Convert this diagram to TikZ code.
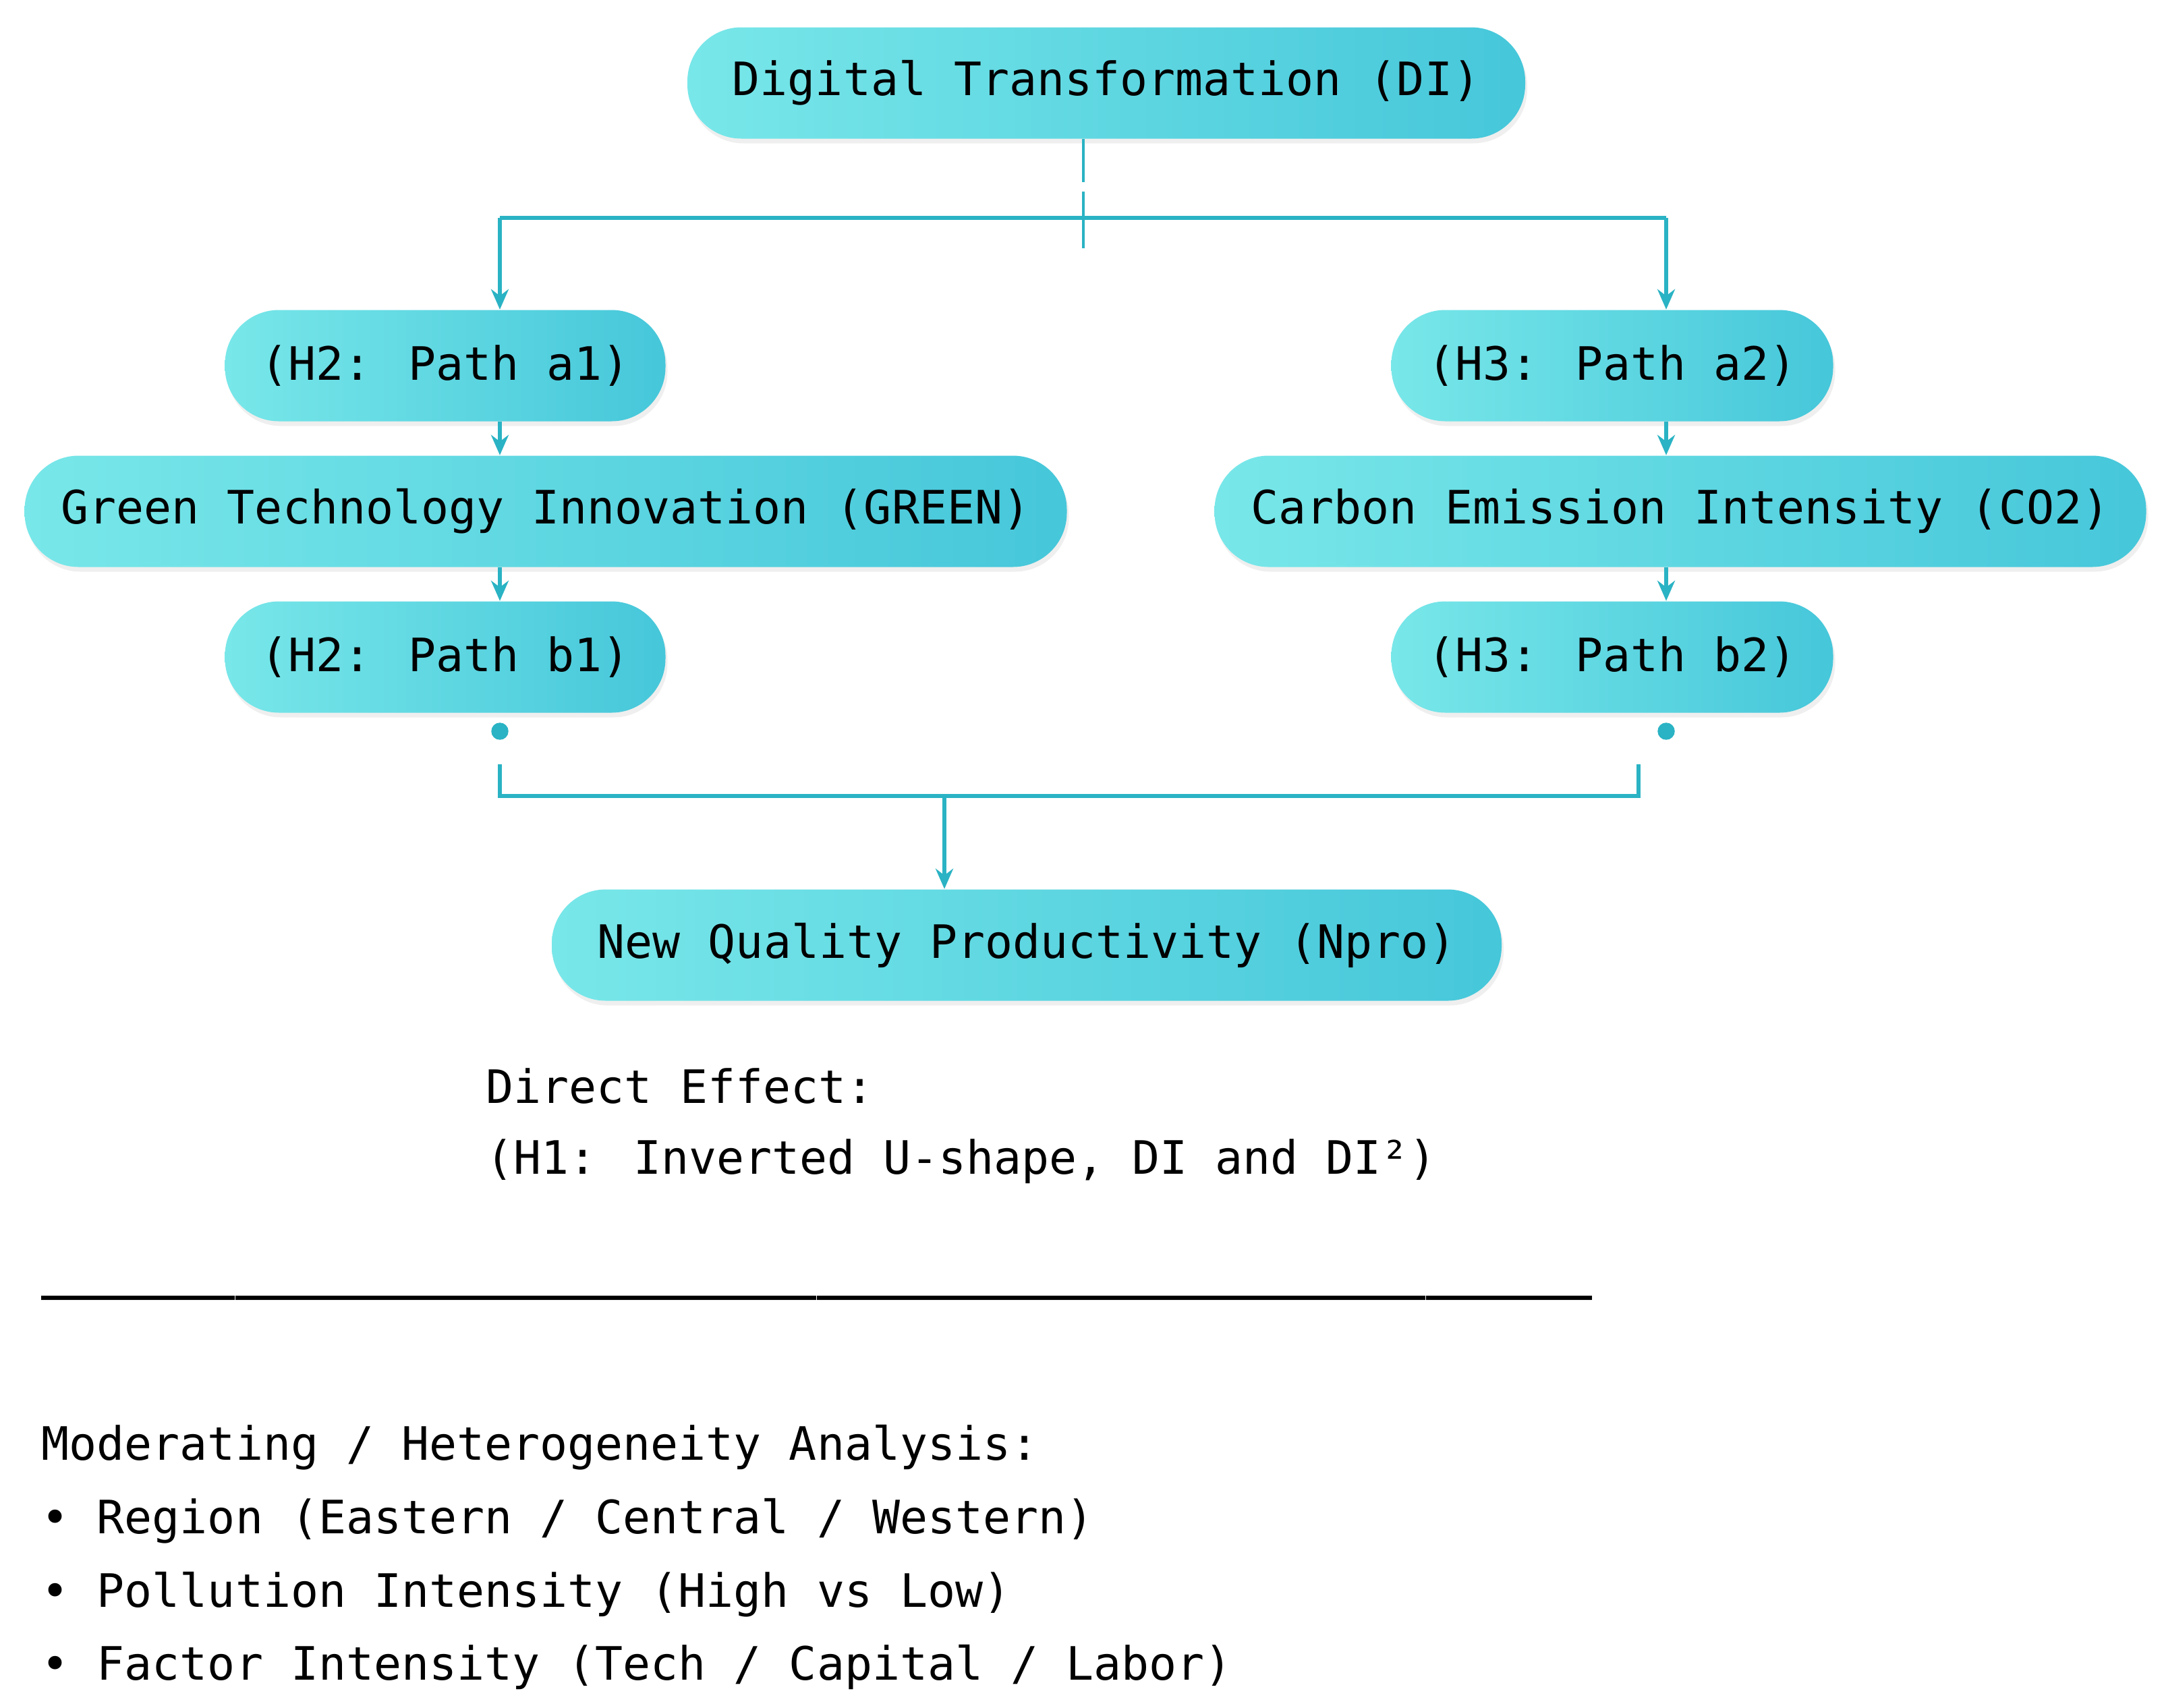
\documentclass[tikz,border=0pt]{standalone}
\usepackage{fontspec}
\setmainfont{DejaVu Sans Mono}
\usetikzlibrary{arrows.meta,shadows}

\definecolor{boxleft}{HTML}{78E7E9}
\definecolor{boxright}{HTML}{46C7DA}
\definecolor{linkcol}{HTML}{2AB3C4}

\tikzset{
  box/.style={rounded corners=0.8cm, left color=boxleft, right color=boxright,
    minimum height=1.65cm, inner sep=0pt, font=\fontsize{19.4}{23}\selectfont,
    drop shadow={opacity=0.12, shadow xshift=0.03cm, shadow yshift=-0.07cm}},
  link/.style={draw=linkcol, line width=1.6pt},
  arr/.style={link, -{Stealth[length=3mm,width=2.6mm]}},
  note/.style={anchor=base west, inner sep=0pt, font=\fontsize{19.4}{23}\selectfont},
}

\begin{document}
\begin{tikzpicture}
\fill[white] (0,0) rectangle (32.08,-25.31);
\useasboundingbox (0,0) rectangle (32.08,-25.31);

% boxes
\node[box, minimum width=12.42cm] (di) at (16.40,-1.23) {Digital Transformation (DI)};
\node[box, minimum width=6.53cm] (h2a) at (6.60,-5.42) {(H2: Path a1)};
\node[box, minimum width=15.45cm] (green) at (8.09,-7.58) {Green Technology Innovation (GREEN)};
\node[box, minimum width=6.53cm] (h2b) at (6.60,-9.74) {(H2: Path b1)};
\node[box, minimum width=6.55cm] (h3a) at (23.90,-5.42) {(H3: Path a2)};
\node[box, minimum width=13.81cm] (co2) at (24.91,-7.58) {Carbon Emission Intensity (CO2)};
\node[box, minimum width=6.55cm] (h3b) at (23.90,-9.74) {(H3: Path b2)};
\node[box, minimum width=14.08cm] (npro) at (15.22,-14.01) {New Quality Productivity (Npro)};

% split from DI
\coordinate (stem) at (16.06,-3.23);
\coordinate (brL) at (7.41,-3.23);
\coordinate (brR) at (24.70,-3.23);
\coordinate (gap) at (16.06,-2.70);
\draw[link, line width=1pt] (di.south -| stem) -- (gap);
\draw[link, line width=1pt] ([yshift=-0.14cm]gap) -- ([yshift=-0.45cm]stem);
\draw[link] (brL) -- (brR);
\draw[arr] (brL) -- (h2a.north -| brL);
\draw[arr] (brR) -- (h3a.north -| brR);

% mediator chains
\draw[arr] (h2a.south -| brL) -- (green.north -| brL);
\draw[arr] (green.south -| brL) -- (h2b.north -| brL);
\draw[arr] (h3a.south -| brR) -- (co2.north -| brR);
\draw[arr] (co2.south -| brR) -- (h3b.north -| brR);

% merge into Npro
\coordinate (dotL) at (7.41,-10.84);
\coordinate (dotR) at (24.70,-10.84);
\filldraw[linkcol] (dotL) circle (0.12);
\filldraw[linkcol] (dotR) circle (0.12);
\coordinate (mL) at (7.41,-11.33);
\coordinate (mR) at (24.29,-11.33);
\coordinate (mid) at (14.00,-11.80);
\draw[link] (mL) -- ++(0,-0.47) -| (mR);
\draw[arr] (mid) -- (npro.north -| mid);

% notes
\node[note] (direct) at (7.20,-16.35) {Direct Effect:};
\node[note] (h1) at (7.20,-17.40) {(H1: Inverted U-shape, DI and DI²)};
\node[note, font=\fontsize{19.4}{23}\selectfont\bfseries] (rule) at (0.61,-19.11) {\_\_\_\_\_\_\_\_\_\_\_\_\_\_\_\_\_\_\_\_\_\_\_\_\_\_\_\_\_\_\_\_\_\_\_\_\_\_\_\_\_\_\_\_\_\_\_\_\_\_\_\_\_\_\_\_};
\node[note] (moder) at (0.61,-21.64) {Moderating / Heterogeneity Analysis:};
\node[note] (region) at (0.61,-22.73) {• Region (Eastern / Central / Western)};
\node[note] (pollut) at (0.61,-23.82) {• Pollution Intensity (High vs Low)};
\node[note] (factor) at (0.61,-24.90) {• Factor Intensity (Tech / Capital / Labor)};
\end{tikzpicture}
\end{document}
